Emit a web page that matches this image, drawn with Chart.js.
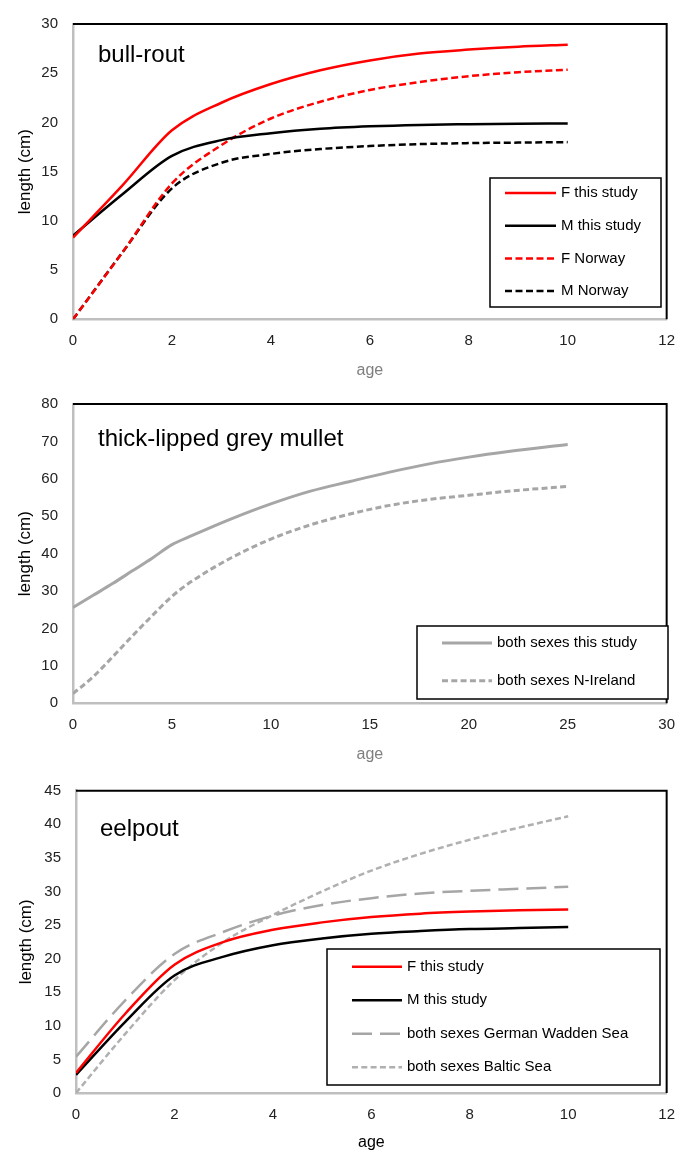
<!DOCTYPE html>
<html lang="en">
<head>
<meta charset="UTF-8">
<title>Growth curves</title>
<script src="https://cdn.jsdelivr.net/npm/chart.js"></script>
<style>
  body { margin: 0; background: #fff; width: 688px; height: 1152px; position: relative; overflow: hidden; }
  canvas { position: absolute; left: 0; }
</style>
</head>
<body>
<canvas id="bullChart" width="688" height="380" style="top:0"></canvas>
<canvas id="mulletChart" width="688" height="385" style="top:380px"></canvas>
<canvas id="eelChart" width="688" height="387" style="top:765px"></canvas>
<script>
// bull-rout
const bullAge   = [0, 1, 2, 3, 4, 5, 6, 7, 8, 9, 10];
const bullFThis = [8.3, 13.6, 19.2, 22.0, 23.9, 25.3, 26.3, 27.0, 27.4, 27.7, 27.9];
const bullMThis = [8.5, 12.7, 16.6, 18.2, 18.9, 19.35, 19.6, 19.75, 19.82, 19.87, 19.9];
const bullFNor  = [0, 6.8, 13.8, 17.7, 20.4, 22.1, 23.3, 24.1, 24.7, 25.1, 25.35];
const bullMNor  = [0, 6.8, 13.3, 15.9, 16.8, 17.3, 17.6, 17.8, 17.9, 17.95, 18.0];

// thick-lipped grey mullet
const mulletAge  = [0, 1, 2, 3, 4, 5, 6, 8, 10, 12, 14, 16, 18, 20, 22, 25];
const mulletThis = [25.6, 28.8, 32.0, 35.4, 38.8, 42.4, 44.8, 49.3, 53.3, 56.7, 59.3, 61.8, 64.0, 65.8, 67.3, 69.2];
const mulletNIre = [2.6, 7.0, 12.4, 18.0, 23.4, 28.6, 32.6, 38.9, 43.9, 47.7, 50.6, 52.9, 54.5, 55.6, 56.7, 58.0];

// eelpout
const eelAge     = [0, 1, 2, 3, 4, 5, 6, 7, 8, 9, 10];
const eelFThis   = [3.0, 11.8, 19.1, 22.5, 24.3, 25.4, 26.2, 26.7, 27.0, 27.2, 27.3];
const eelMThis   = [2.7, 10.6, 17.5, 20.3, 22.0, 23.0, 23.7, 24.1, 24.4, 24.55, 24.7];
const eelWadden  = [5.4, 13.8, 20.7, 24.0, 26.4, 28.0, 29.0, 29.7, 30.1, 30.4, 30.7];
const eelBaltic  = [0, 8.8, 16.8, 22.5, 26.5, 30.0, 33.1, 35.6, 37.7, 39.5, 41.2];

const FONT = '"Liberation Sans", Arial, sans-serif';
const GREY = '#a6a6a6';

function pts(xs, ys) {
  return xs.map((x, i) => ({ x: x, y: ys[i] }));
}

function line(label, xs, ys, color, dash, width) {
  return {
    label: label, data: pts(xs, ys), borderColor: color, borderDash: dash,
    borderWidth: width, pointRadius: 0, cubicInterpolationMode: 'monotone', fill: false
  };
}

// top/right frame, species name inside the plot, legend box
const framePlugin = {
  id: 'frame',
  afterDraw(chart, args, opts) {
    const ctx = chart.ctx, a = chart.chartArea;
    ctx.save();
    ctx.strokeStyle = '#000';
    ctx.lineWidth = 2;
    ctx.beginPath();
    ctx.moveTo(a.left, a.top);
    ctx.lineTo(a.right, a.top);
    ctx.lineTo(a.right, a.bottom);
    ctx.stroke();

    ctx.fillStyle = '#000';
    ctx.font = '24px ' + FONT;
    ctx.textBaseline = 'alphabetic';
    ctx.fillText(opts.name, opts.nameX, opts.nameY);

    const b = opts.box;
    ctx.fillStyle = '#fff';
    ctx.fillRect(b.x, b.y, b.w, b.h);
    ctx.strokeStyle = '#000';
    ctx.lineWidth = 1.5;
    ctx.strokeRect(b.x, b.y, b.w, b.h);
    ctx.font = '15px ' + FONT;
    ctx.textBaseline = 'middle';
    chart.data.datasets.forEach((ds, i) => {
      const y = b.rowY + i * b.rowGap;
      ctx.strokeStyle = ds.borderColor;
      ctx.lineWidth = ds.borderWidth;
      ctx.setLineDash(ds.borderDash || []);
      ctx.beginPath();
      ctx.moveTo(b.lineX, y);
      ctx.lineTo(b.lineX + b.lineW, y);
      ctx.stroke();
      ctx.setLineDash([]);
      ctx.fillStyle = '#000';
      ctx.fillText(ds.label, b.lineX + b.lineW + 5, y);
    });
    ctx.restore();
  }
};

function makeChart(id, datasets, o) {
  return new Chart(document.getElementById(id), {
    type: 'line',
    data: { datasets: datasets },
    plugins: [framePlugin],
    options: {
      responsive: false,
      animation: false,
      layout: { padding: { top: o.top, right: o.right, left: 0, bottom: 0 } },
      plugins: {
        legend: { display: false },
        tooltip: { enabled: false },
        frame: o.frame
      },
      scales: {
        x: {
          type: 'linear', min: 0, max: o.xMax,
          grid: { display: false, drawTicks: false },
          border: { color: '#bfbfbf', width: 2.5 },
          ticks: { stepSize: o.xStep, padding: 13, color: '#222', font: { family: FONT, size: 15 } },
          title: { display: true, text: 'age', color: o.ageColor, font: { family: FONT, size: 16 },
                   padding: { top: 0, bottom: o.agePad } },
          afterFit(s) { s.height = o.xH; }
        },
        y: {
          type: 'linear', min: 0, max: o.yMax,
          grid: { display: false, drawTicks: false },
          border: { color: '#bfbfbf', width: 2.5 },
          ticks: { stepSize: o.yStep, padding: 15, color: '#222', font: { family: FONT, size: 15 } },
          title: { display: true, text: 'length (cm)', color: '#000', font: { family: FONT, size: 17 },
                   padding: { top: o.yTitlePad, bottom: 0 } },
          afterFit(s) { s.width = o.yW; }
        }
      }
    }
  });
}

makeChart('bullChart', [
  line('F this study', bullAge, bullFThis, '#ff0000', [], 2.5),
  line('M this study', bullAge, bullMThis, '#000000', [], 2.5),
  line('F Norway', bullAge, bullFNor, '#ff0000', [7, 3.5], 2.5),
  line('M Norway', bullAge, bullMNor, '#000000', [7, 3.5], 2.5)
], {
  top: 16, right: 14, yW: 73, xH: 60.7, xMax: 12, xStep: 2, yMax: 30, yStep: 5,
  ageColor: '#7f7f7f', agePad: 0, yTitlePad: 15,
  frame: { name: 'bull-rout', nameX: 98, nameY: 61.5,
           box: { x: 490, y: 178, w: 171, h: 129, lineX: 505, lineW: 51, rowY: 193, rowGap: 32.7 } }
});

makeChart('mulletChart', [
  line('both sexes this study', mulletAge, mulletThis, GREY, [], 3),
  line('both sexes N-Ireland', mulletAge, mulletNIre, GREY, [6, 3.3], 3)
], {
  top: 20.7, right: 14, yW: 73, xH: 61.7, xMax: 30, xStep: 5, yMax: 80, yStep: 10,
  ageColor: '#7f7f7f', agePad: 0.4, yTitlePad: 15,
  frame: { name: 'thick-lipped grey mullet', nameX: 98, nameY: 66,
           box: { x: 417, y: 246, w: 251, h: 73, lineX: 442, lineW: 50, rowY: 263, rowGap: 37.7 } }
});

makeChart('eelChart', [
  line('F this study', eelAge, eelFThis, '#ff0000', [], 2.5),
  line('M this study', eelAge, eelMThis, '#000000', [], 2.5),
  line('both sexes German Wadden Sea', eelAge, eelWadden, GREY, [20, 8], 2.5),
  line('both sexes Baltic Sea', eelAge, eelBaltic, '#b0b0b0', [6, 3.3], 2.5)
], {
  top: 25.7, right: 18, yW: 76, xH: 59, xMax: 12, xStep: 2, yMax: 45, yStep: 5,
  ageColor: '#000', agePad: 0, yTitlePad: 16,
  frame: { name: 'eelpout', nameX: 100, nameY: 71,
           box: { x: 327, y: 184, w: 333, h: 136, lineX: 352, lineW: 50, rowY: 201.7, rowGap: 33.5 } }
});
</script>
</body>
</html>
